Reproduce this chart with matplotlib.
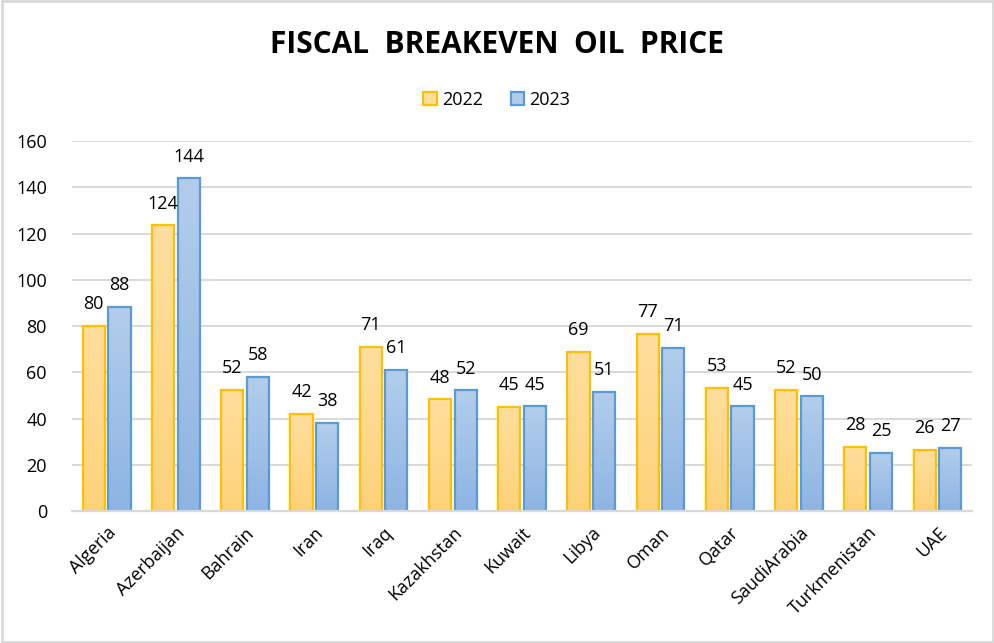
import matplotlib.pyplot as plt
import numpy as np
from matplotlib.colors import LinearSegmentedColormap
from matplotlib.patches import Patch, Rectangle

plt.rcParams["font.family"] = ["Open Sans", "DejaVu Sans"]

countries = ["Algeria", "Azerbaijan", "Bahrain", "Iran", "Iraq", "Kazakhstan", "Kuwait",
             "Libya", "Oman", "Qatar", "SaudiArabia", "Turkmenistan", "UAE"]
years = ["2022", "2023"]
price_2022 = [80, 123.5, 52.3, 42, 70.9, 48.3, 45, 68.8, 76.6, 53.2, 52.3, 27.7, 26.4]
price_2023 = [88.2, 143.8, 57.9, 38, 61, 52.2, 45.3, 51.4, 70.6, 45.3, 49.6, 25, 27.4]

edge_colors = ["#FFC000", "#5B9BD5"]
grad_colors = [("#FDD27A", "#FFDE9E"), ("#8EB4E3", "#B3CDEB")]

fig = plt.figure(figsize=(9.95, 6.43), dpi=100)
ax = fig.add_axes([72 / 995, 132 / 643, 900 / 995, 370 / 643])

x = np.arange(len(countries))
width = 0.32
offsets = [-0.185, 0.185]

for series, off, edge, (c0, c1) in zip([price_2022, price_2023], offsets, edge_colors, grad_colors):
    cmap = LinearSegmentedColormap.from_list("g", [c0, c1])
    bars = ax.bar(x + off, series, width, facecolor="none", edgecolor=edge, linewidth=1.6, zorder=3)
    for bar, val in zip(bars, series):
        x0 = bar.get_x()
        grad = np.linspace(0, 1, 256).reshape(-1, 1)
        img = ax.imshow(grad, cmap=cmap, origin="lower", aspect="auto",
                        extent=[x0, x0 + bar.get_width(), 0, val], zorder=2)
        img.set_clip_path(bar)
        ax.text(bar.get_x() + bar.get_width() / 2, val + 5.5, f"{val:.0f}",
                ha="center", va="bottom", fontsize=13, color="#000000", zorder=4)

ax.set_xlim(-0.5, len(countries) - 0.5)
ax.set_ylim(0, 160)
ax.set_yticks(range(0, 161, 20))
ax.set_xticks(x)
ax.set_xticklabels(countries, rotation=45, ha="right", rotation_mode="anchor", fontsize=13)
ax.tick_params(axis="y", labelsize=13, length=0, pad=18)
ax.tick_params(axis="x", length=0, pad=9)
ax.grid(axis="y", color="#D9D9D9", linewidth=1.4, zorder=0)
ax.set_axisbelow(True)
for side in ["top", "right", "left"]:
    ax.spines[side].set_visible(False)
ax.spines["bottom"].set_color("#D9D9D9")
ax.spines["bottom"].set_linewidth(1.6)
ax.spines["bottom"].set_zorder(5)

handles = [Patch(facecolor=c1, edgecolor=e, linewidth=1.6) for (c0, c1), e in zip(grad_colors, edge_colors)]
fig.legend(handles, years, loc="center", bbox_to_anchor=(497 / 995, 1 - 100 / 643), ncol=2,
           frameon=False, fontsize=13, handlelength=0.75, handleheight=0.75, handletextpad=0.3,
           columnspacing=1.5)

fig.text(497 / 995, 1 - 45 / 643, "FISCAL  BREAKEVEN  OIL  PRICE", ha="center", va="center",
         fontsize=21.5, fontweight="bold")

fig.patches.append(Rectangle((0.002, 0.002), 0.996, 0.996, transform=fig.transFigure,
                             fill=False, edgecolor="#D9D9D9", linewidth=2))

fig.savefig("out.png", dpi=100)
